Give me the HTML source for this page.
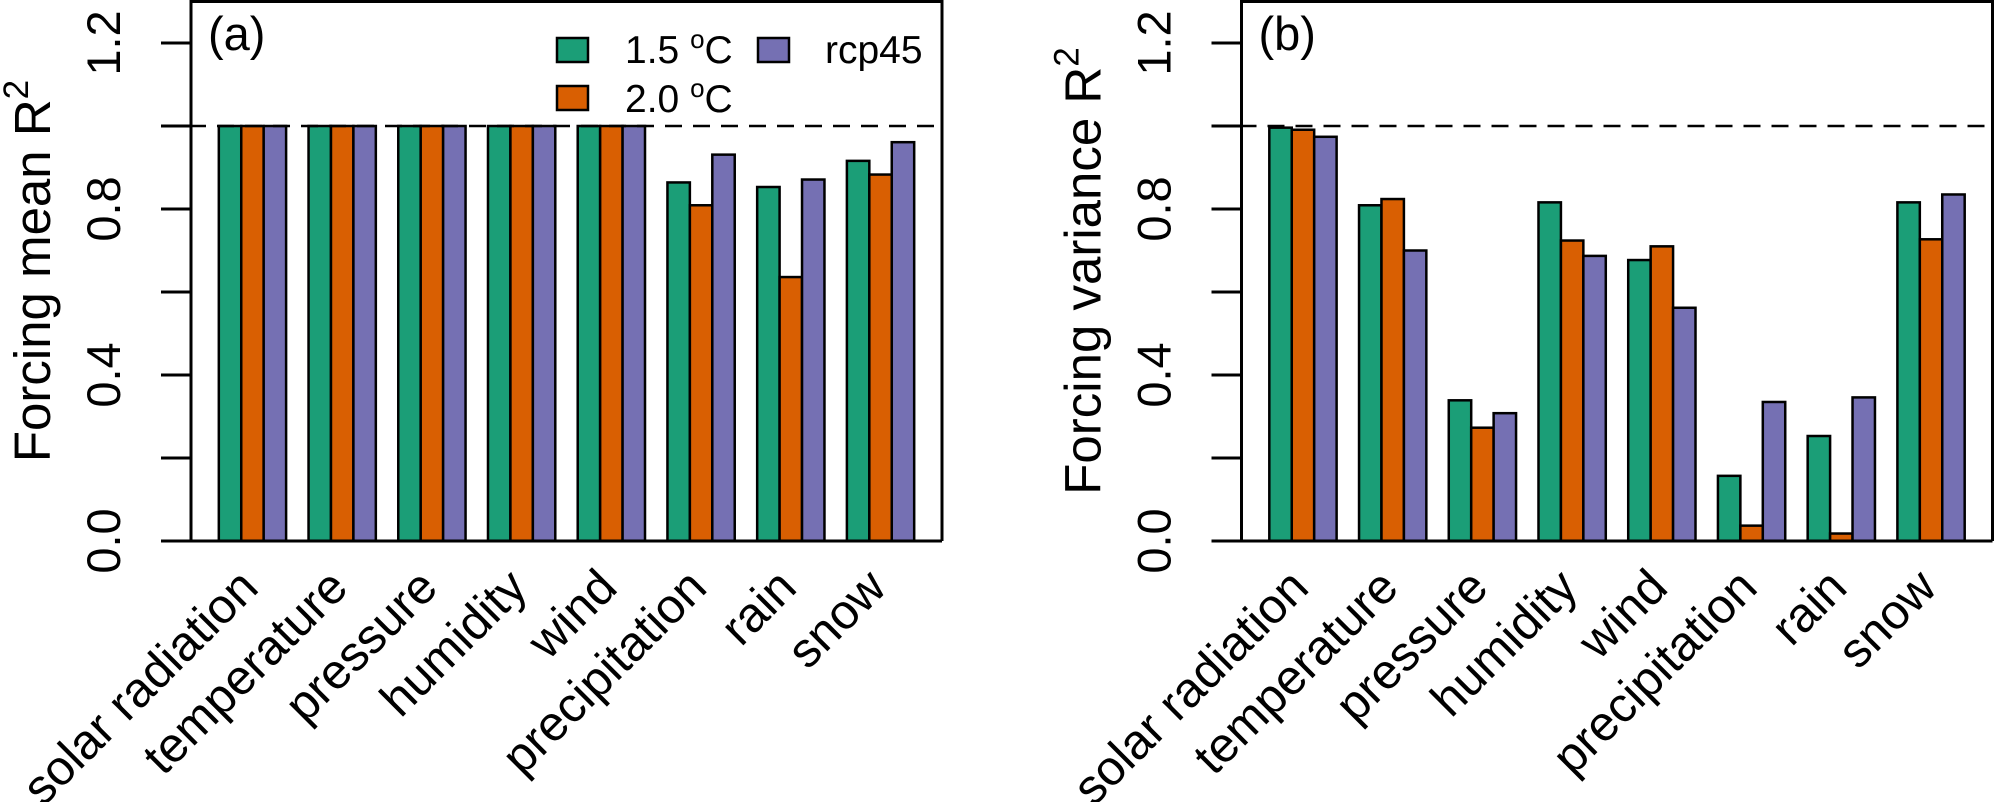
<!DOCTYPE html>
<html><head><meta charset="utf-8"><style>
html,body{margin:0;padding:0;background:#fff;}
svg{display:block;font-family:"Liberation Sans",Arial,sans-serif;}
</style></head><body>
<svg id="chart" width="1994" height="802" viewBox="0 0 1994 802" xmlns="http://www.w3.org/2000/svg"></svg>
<script>
const categories = ["solar radiation","temperature","pressure","humidity","wind","precipitation","rain","snow"];
const seriesNames = ["1.5 ºC","2.0 ºC","rcp45"];
const meanS15 = [1,1,1,1,1,0.864,0.853,0.916];
const meanS20 = [1,1,1,1,1,0.809,0.636,0.883];
const meanRcp = [1,1,1,1,1,0.931,0.871,0.961];
const varS15 = [0.996,0.809,0.339,0.816,0.677,0.157,0.253,0.816];
const varS20 = [0.991,0.824,0.273,0.724,0.710,0.037,0.018,0.727];
const varRcp = [0.974,0.700,0.308,0.687,0.562,0.335,0.346,0.835];
const yTicks = [0,0.2,0.4,0.6,0.8,1.0,1.2];
const yTickLabels = ["0.0","","0.4","","0.8","","1.2"];
const colors = ["#1b9e77","#d95f02","#7570b3"];

const svg = document.getElementById('chart');
const NS = "http://www.w3.org/2000/svg";
function mk(tag, attrs, parent){
  const e = document.createElementNS(NS, tag);
  for (const k in attrs) e.setAttribute(k, attrs[k]);
  (parent||svg).appendChild(e);
  return e;
}
const TOP = 1.5, BOT = 541, YMAX = 1.3;
function yScale(v){ return BOT - v/YMAX*(BOT-TOP); }

function panel(left, right, series, label, ytitle, key, legend){
  const g = mk('g', {});
  
  
  const unit = (right-left)/33.48;
  const xScale = u => left + (u - 1 + 1.24)*unit;
  categories.forEach((c, i) => {
    series.forEach((arr, s) => {
      const u = 1 + i*4 + s;
      const x = xScale(u), y = yScale(arr[i]);
      const r = mk('rect', {x:x, y:y, width:unit, height:BOT-y, fill:colors[s], stroke:'#000', 'stroke-width':2.5}, g);
      
      
    });
    const cx = xScale(1 + i*4 + 1.5);
    const ax = cx + 8, ay = 590;
    const t = mk('text', {x:ax, y:ay, 'font-size':49, 'text-anchor':'end', transform:'rotate(-45 '+ax+' '+ay+')'}, g);
    t.textContent = c;
    
    
  });
  const dl = mk('line', {x1:left-30, x2:right, y1:yScale(1), y2:yScale(1), stroke:'#000', 'stroke-width':2.5, 'stroke-dasharray':'17 11'}, g);
  
  
  const bx = mk('path', {d:'M'+left+' '+BOT+' V'+TOP+' H'+right+' V'+BOT, fill:'none', stroke:'#000', 'stroke-width':3}, g);
  
  
  const xa = mk('line', {x1:left-30, x2:right, y1:BOT, y2:BOT, stroke:'#000', 'stroke-width':3}, g);
  
  
  yTicks.forEach((v, i) => {
    const y = yScale(v);
    const tk = mk('line', {x1:left-30, x2:left, y1:y, y2:y, stroke:'#000', 'stroke-width':3}, g);
    
    
    if (yTickLabels[i]) {
      const tx = left-71;
      const t = mk('text', {x:tx, y:y, 'font-size':47, 'text-anchor':'middle', transform:'rotate(-90 '+tx+' '+y+')'}, g);
      t.textContent = yTickLabels[i];
      
      
    }
  });
  const tx = left-141, ty = 271;
  const yt = mk('text', {x:tx, y:ty, 'font-size':51, 'text-anchor':'middle', transform:'rotate(-90 '+tx+' '+ty+')'}, g);
  yt.innerHTML = ytitle + ' R<tspan dy="-22" font-size="35">2</tspan>';
  
  
  const pl = mk('text', {x:left+17, y:50, 'font-size':47}, g);
  pl.textContent = label;
  
  
  if (legend) {
    const lg = mk('g', {}, g);
    
    
    const pos = [[557,38,625,63],[557,86,625,112],[758,38,825,63]];
    const labs = ['1.5 <tspan dy="-15" font-size="26">o</tspan><tspan dy="15">C</tspan>','2.0 <tspan dy="-15" font-size="26">o</tspan><tspan dy="15">C</tspan>','rcp45'];
    pos.forEach((p, s) => {
      const ent = mk('g', {}, lg);
      
      
      mk('rect', {x:p[0], y:p[1], width:31, height:24, fill:colors[s], stroke:'#000', 'stroke-width':2.5}, ent);
      const t = mk('text', {x:p[2], y:p[3], 'font-size':39}, ent);
      t.innerHTML = labs[s];
    });
  }
}
panel(191, 942, [meanS15, meanS20, meanRcp], '(a)', 'Forcing mean', 'mean', true);
panel(1241.5, 1992.5, [varS15, varS20, varRcp], '(b)', 'Forcing variance', 'variance', false);
</script>
</body></html>
